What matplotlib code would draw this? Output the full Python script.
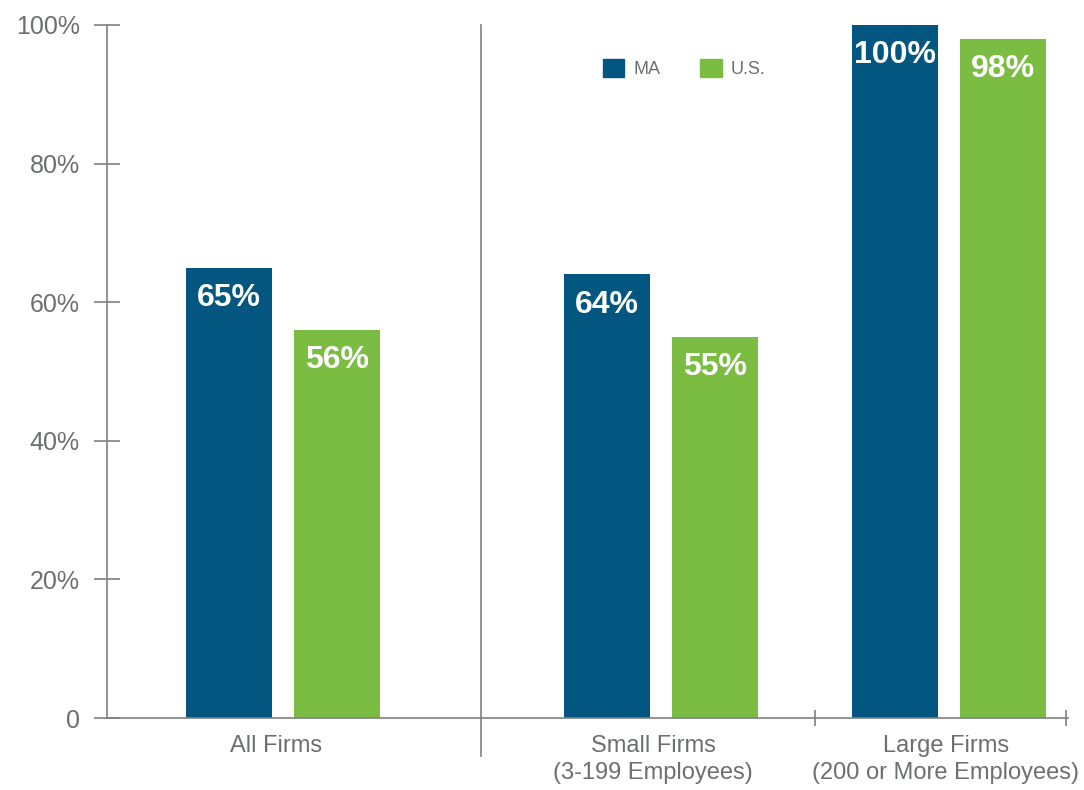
import matplotlib.pyplot as plt
import matplotlib.transforms as mtransforms
from matplotlib.patches import Patch

# share of firms, MA vs U.S.
categories = ["All Firms", "Small Firms\n(3-199 Employees)", "Large Firms\n(200 or More Employees)"]
ma_values = [65, 64, 100]
us_values = [56, 55, 98]
series_names = ["MA", "U.S."]
y_ticks = [0, 20, 40, 60, 80, 100]
y_tick_labels = ["0", "20%", "40%", "60%", "80%", "100%"]

# layout (horizontal units of the axes)
group_pos = [176, 554, 842]
label_pos = [169, 546, 839]
bar_off = 54
bar_w = 86
sep_x = 374
x_ticks = [708, 959]

ma_color = "#02567F"
us_color = "#7BBD42"
gray = "#6D6E71"
line_gray = "#808080"

plt.rcParams["font.family"] = ["Liberation Sans", "DejaVu Sans"]

fig = plt.figure(figsize=(10.84, 7.9), dpi=100)
ax = fig.add_axes([0.0987, 0.0911, 0.8865, 0.8773])

ma_x = [p - bar_off for p in group_pos]
us_x = [p + bar_off for p in group_pos]
ax.bar(ma_x, ma_values, width=bar_w, color=ma_color, zorder=2)
ax.bar(us_x, us_values, width=bar_w, color=us_color, zorder=2)

for x, v in zip(ma_x, ma_values):
    ax.text(x, v - 4.4, f"{v}%", ha="center", va="center", color="white",
            fontsize=23, fontweight="bold")
for x, v in zip(us_x, us_values):
    ax.text(x, v - 4.4, f"{v}%", ha="center", va="center", color="white",
            fontsize=23, fontweight="bold")

ax.set_xlim(0, 961)
ax.set_ylim(0, 100)

for s in ["top", "right"]:
    ax.spines[s].set_visible(False)
for s in ["left", "bottom"]:
    ax.spines[s].set_color(line_gray)
    ax.spines[s].set_linewidth(1.2)

ax.set_yticks(y_ticks)
ax.set_yticklabels(y_tick_labels)
ax.tick_params(axis="y", direction="inout", length=19, width=1.2, color=line_gray,
               labelcolor=gray, labelsize=18, pad=10)
ax.set_xticks(x_ticks)
ax.set_xticklabels([])
ax.tick_params(axis="x", direction="inout", length=12, width=1.2, color=line_gray)

# divider between all firms and the size breakdown
ax.plot([sep_x, sep_x], [-5.5, 100], color=line_gray, lw=1.2, clip_on=False, zorder=3)

# category labels under the axis
trans = mtransforms.blended_transform_factory(ax.transData, ax.transAxes)
for p, lab in zip(label_pos, categories):
    ax.text(p, -0.024, lab, transform=trans, ha="center", va="top",
            fontsize=17, color=gray, linespacing=1.3)

handles = [Patch(color=ma_color), Patch(color=us_color)]
leg = ax.legend(handles, series_names, loc="upper left", bbox_to_anchor=(0.499, 0.975),
                ncol=2, frameon=False, fontsize=13, handlelength=1.2, handleheight=1.2,
                columnspacing=2.2, handletextpad=0.5)
for t in leg.get_texts():
    t.set_color(gray)

fig.savefig("out.png", dpi=100)
